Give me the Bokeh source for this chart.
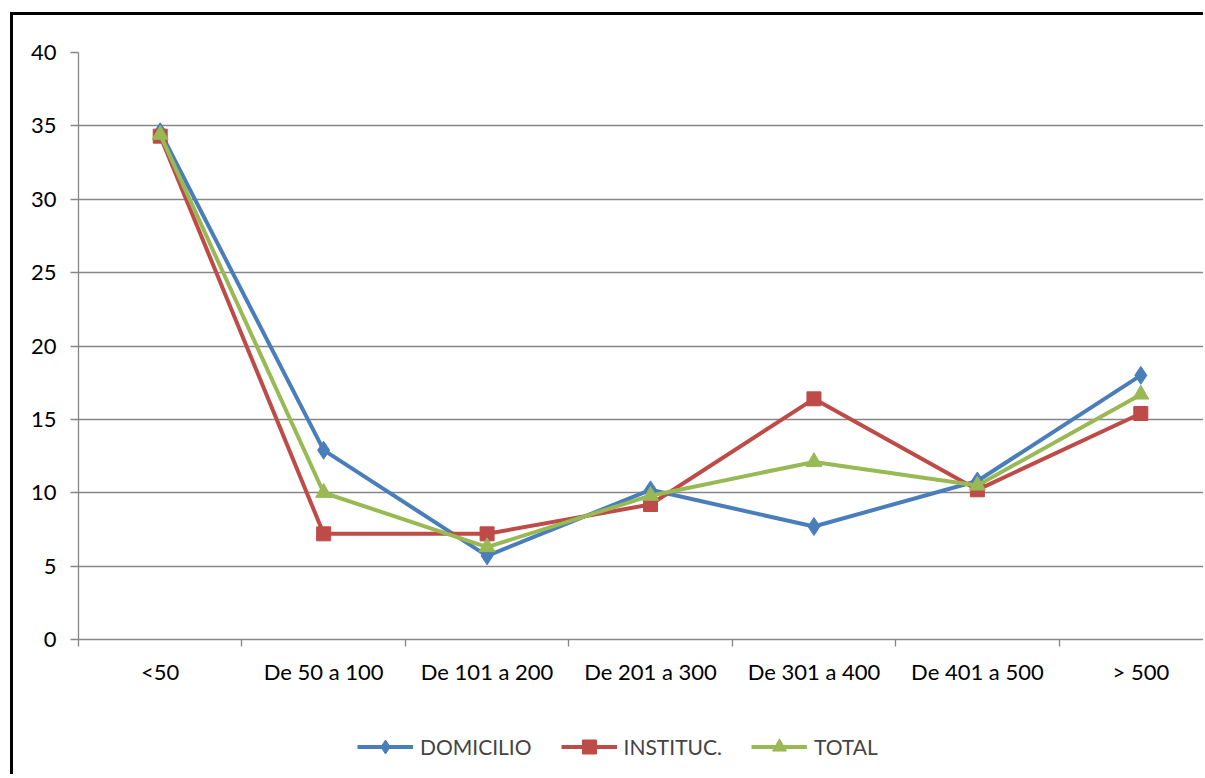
from bokeh.plotting import figure
from bokeh.models import Range1d, FixedTicker, Legend, LegendItem
from bokeh.layouts import column
from bokeh.embed import file_html
from bokeh.resources import INLINE

categories = ["<50", "De 50 a 100", "De 101 a 200", "De 201 a 300", "De 301 a 400", "De 401 a 500", "> 500"]
domicilio = [34.6, 12.9, 5.7, 10.2, 7.7, 10.8, 18.0]
instituc = [34.3, 7.2, 7.2, 9.2, 16.4, 10.2, 15.4]
total = [34.4, 10.0, 6.3, 9.8, 12.1, 10.5, 16.7]
y_ticks = [0, 5, 10, 15, 20, 25, 30, 35, 40]

FONT = "Lato"
FS = "22px"
GRID = "#868686"

xs = [i + 0.5 for i in range(len(categories))]
bounds = [float(i) for i in range(len(categories) + 1)]

frame_w = 1125
cat_w = 163.0

p = figure(frame_width=frame_w, frame_height=584,
           x_range=Range1d(0, frame_w / cat_w), y_range=Range1d(0, 40),
           output_backend="svg", toolbar_location=None,
           min_border_left=65, min_border_right=0, min_border_top=37, min_border_bottom=60,
           styles={"margin-left": "10px", "margin-top": "12px",
                   "border-left": "3px solid black", "border-top": "3px solid black"})
p.outline_line_color = None
p.background_fill_color = "white"
p.border_fill_color = "white"

p.xaxis.ticker = FixedTicker(ticks=xs, minor_ticks=bounds)
p.xaxis.major_label_overrides = {x: c for x, c in zip(xs, categories)}
p.xaxis.major_tick_line_color = None
p.xaxis.major_tick_out = 0
p.xaxis.major_tick_in = 0
p.xaxis.minor_tick_line_color = GRID
p.xaxis.minor_tick_line_width = 1.3
p.xaxis.minor_tick_out = 7
p.xaxis.minor_tick_in = 0
p.xaxis.major_label_standoff = 11
p.xaxis.axis_line_color = GRID
p.xaxis.axis_line_width = 1.3

p.yaxis.ticker = FixedTicker(ticks=y_ticks)
p.yaxis.major_tick_out = 8
p.yaxis.major_tick_in = 0
p.yaxis.major_tick_line_color = GRID
p.yaxis.major_tick_line_width = 1.3
p.yaxis.minor_tick_line_color = None
p.yaxis.major_label_standoff = 14
p.yaxis.axis_line_color = GRID
p.yaxis.axis_line_width = 1.3

for ax in (p.xaxis, p.yaxis):
    ax.major_label_text_font = FONT
    ax.major_label_text_font_size = FS
    ax.major_label_text_color = "black"

p.xgrid.grid_line_color = None
p.ygrid.ticker = FixedTicker(ticks=y_ticks)
p.ygrid.grid_line_color = GRID
p.ygrid.grid_line_width = 1.3

series = [
    ("DOMICILIO", domicilio, "#4A7EBB", "diamond", 18),
    ("INSTITUC.", instituc, "#BE4B48", "square", 14),
    ("TOTAL", total, "#98B954", "triangle", 16),
]

# legend strip below the chart (its renderers lie outside its own visible range)
lg = figure(width=1190, height=78, x_range=Range1d(100, 101), y_range=Range1d(100, 101),
            output_backend="svg", toolbar_location=None,
            x_axis_location=None, y_axis_location=None,
            min_border_left=0, min_border_right=0, min_border_top=0, min_border_bottom=0,
            styles={"margin-left": "10px", "border-left": "3px solid black"})
lg.outline_line_color = None
lg.xgrid.grid_line_color = None
lg.ygrid.grid_line_color = None
lg.background_fill_color = "white"
lg.border_fill_color = "white"

items = []
for name, vals, col, mk, sz in series:
    p.line(xs, vals, line_color=col, line_width=4)
    p.scatter(xs, vals, marker=mk, size=sz, fill_color=col, line_color=col)
    l = lg.line(xs, vals, line_color=col, line_width=4)
    s = lg.scatter(xs, vals, marker=mk, size=sz, fill_color=col, line_color=col)
    items.append(LegendItem(label=name, renderers=[l, s]))

legend = Legend(items=items, orientation="horizontal", location=(279, 10),
                padding=0, margin=0, spacing=29, glyph_width=56, glyph_height=35,
                label_standoff=7, label_text_font=FONT, label_text_font_size="21px",
                border_line_color=None, background_fill_alpha=0)
lg.add_layout(legend)

layout = column(p, lg, spacing=0)
open("out.html", "w").write(file_html(layout, INLINE))
